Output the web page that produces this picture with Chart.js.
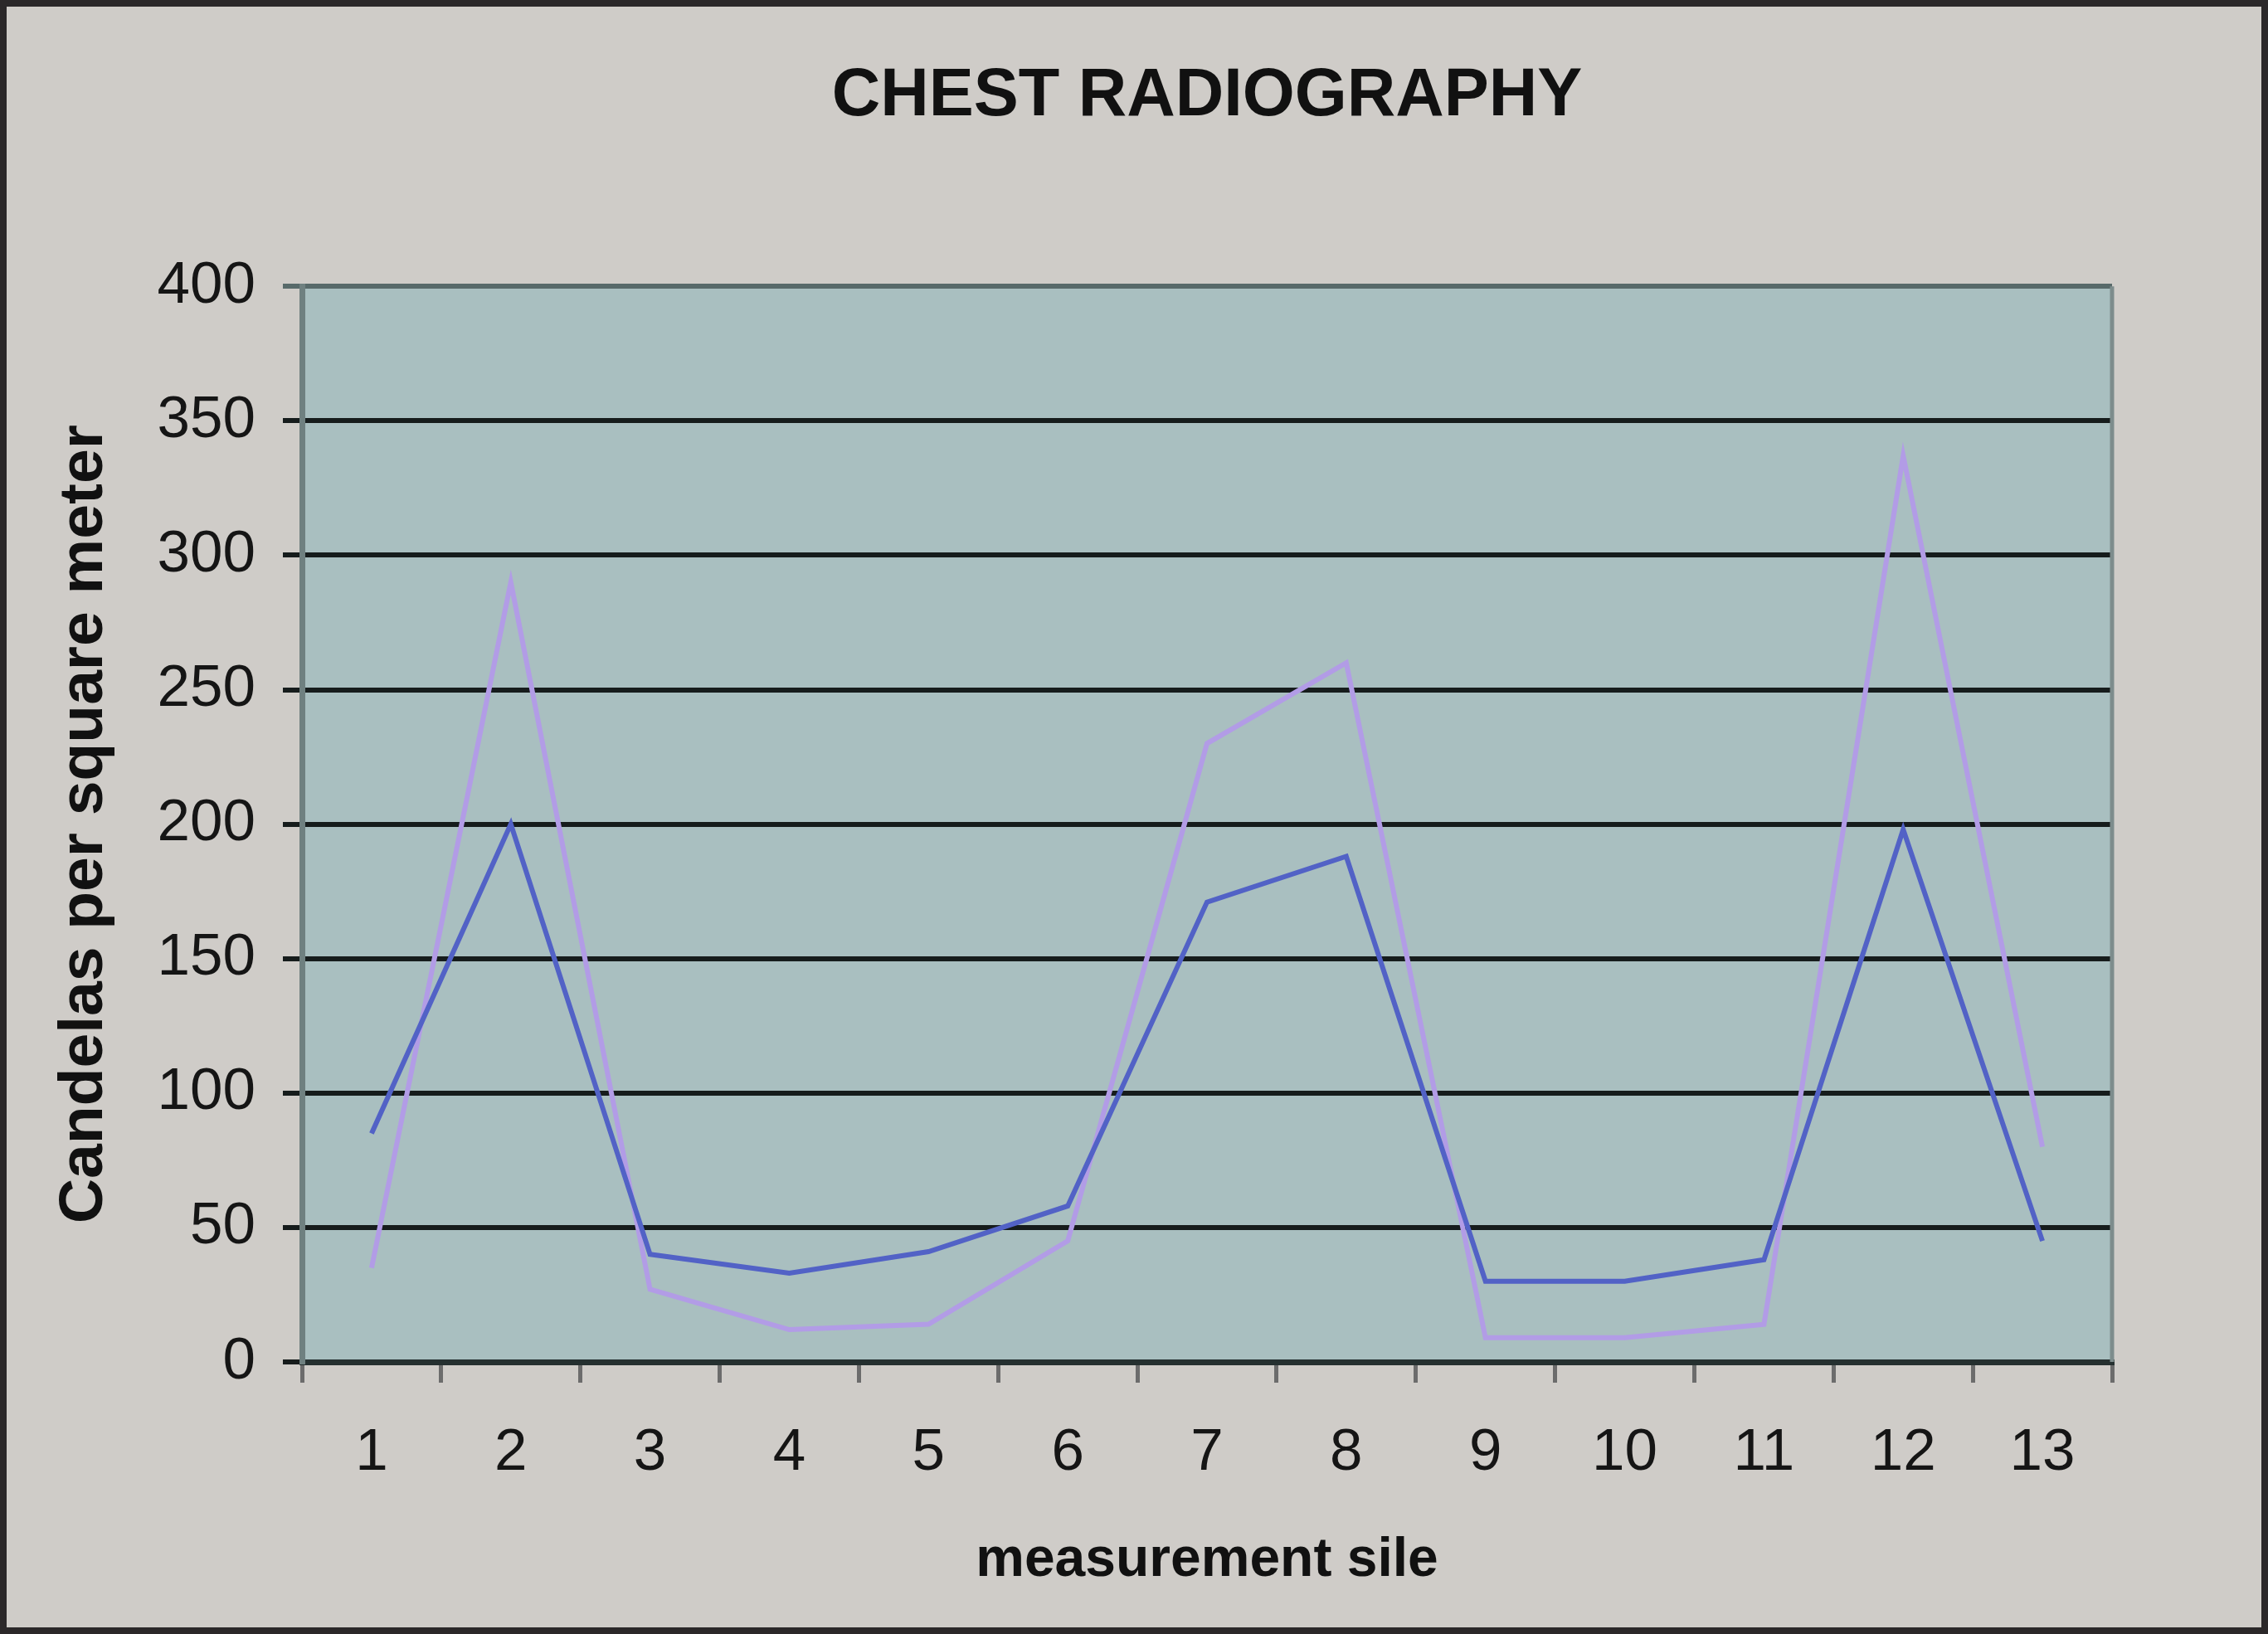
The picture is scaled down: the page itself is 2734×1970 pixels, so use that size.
<!DOCTYPE html>
<html>
<head>
<meta charset="utf-8">
<script src="https://cdn.jsdelivr.net/npm/chart.js@4.4.1/dist/chart.umd.min.js"></script>
<style>
  html, body { margin: 0; padding: 0; background: #cfccc8; }
  #wrap { position: relative; width: 2734px; height: 1970px; }
  canvas { display: block; }
</style>
</head>
<body>
<div id="wrap"><canvas id="c" width="2734" height="1970"></canvas></div>
<script>
// ---- data ----
const categories = ["1","2","3","4","5","6","7","8","9","10","11","12","13"];
const seriesDark = [85, 200, 40, 33, 41, 58, 171, 188, 30, 30, 38, 198, 45];
const seriesLight = [35, 290, 27, 12, 14, 45, 230, 260, 9, 9, 14, 337, 80];
const yTicks = [0, 50, 100, 150, 200, 250, 300, 350, 400];
const chartTitle = "CHEST RADIOGRAPHY";
const yTitle = "Candelas per square meter";
const xTitle = "measurement sile";

const bgPlugin = {
  id: 'bg',
  beforeDraw(chart) {
    const {ctx, chartArea: a} = chart;
    ctx.save();
    ctx.fillStyle = '#cfccc8';
    ctx.fillRect(0, 0, chart.width, chart.height);
    ctx.fillStyle = '#a9bfc0';
    ctx.fillRect(a.left, a.top, a.right - a.left, a.bottom - a.top);
    ctx.restore();
  },
  afterDraw(chart) {
    const {ctx, chartArea: a} = chart;
    ctx.save();
    // right border of plot area
    ctx.strokeStyle = '#7d8c8c';
    ctx.lineWidth = 5;
    ctx.beginPath();
    ctx.moveTo(a.right, a.top);
    ctx.lineTo(a.right, a.bottom);
    ctx.stroke();
    // outer frame
    ctx.strokeStyle = '#2b2829';
    ctx.lineWidth = 16;
    ctx.strokeRect(0, 0, chart.width, chart.height);
    ctx.restore();
  }
};

Chart.defaults.font.family = "'Liberation Sans', Arial, sans-serif";
Chart.defaults.color = '#151515';

new Chart(document.getElementById('c'), {
  type: 'line',
  data: {
    labels: categories,
    datasets: [
      { label: 'dark', data: seriesDark, borderColor: '#5262c6', borderWidth: 6, pointRadius: 0, tension: 0, fill: false },
      { label: 'light', data: seriesLight, borderColor: '#b29ce6', borderWidth: 6, pointRadius: 0, tension: 0, fill: false }
    ]
  },
  options: {
    responsive: false,
    devicePixelRatio: 1,
    animation: false,
    layout: { padding: { left: 0, right: 188, top: 0, bottom: 0 } },
    plugins: {
      legend: { display: false },
      tooltip: { enabled: false },
      title: {
        display: true,
        text: chartTitle,
        fullSize: false,
        color: '#111',
        font: { size: 81, weight: 'bold' },
        padding: { top: 68, bottom: 180 }
      }
    },
    scales: {
      x: {
        offset: true,
        afterFit(s) { s.height = 328; },
        grid: { offset: true, drawOnChartArea: false, drawTicks: true, tickLength: 25, color: '#6c6c6c', lineWidth: 5 },
        border: { display: true, color: '#253030', width: 7 },
        ticks: { font: { size: 71 }, padding: 43, color: '#151515', maxRotation: 0 },
        title: { display: true, text: xTitle, font: { size: 66, weight: 'bold' }, color: '#111', padding: { top: 0, bottom: 49 } }
      },
      y: {
        min: 0, max: 400,
        afterFit(s) { s.width = 364; },
        afterBuildTicks(s) { s.ticks = yTicks.map(v => ({ value: v })); },
        grid: {
          drawTicks: true, tickLength: 23, lineWidth: 6,
          color: (c) => (c.tick && c.tick.value === 400) ? '#586a6a' : '#161c1c'
        },
        border: { display: true, color: '#6f8080', width: 7 },
        ticks: { font: { size: 71 }, padding: 33, color: '#151515' },
        title: { display: true, text: yTitle, font: { size: 75, weight: 'bold' }, color: '#111', padding: { top: 57, bottom: 0 } }
      }
    }
  },
  plugins: [bgPlugin]
});
</script>
</body>
</html>
